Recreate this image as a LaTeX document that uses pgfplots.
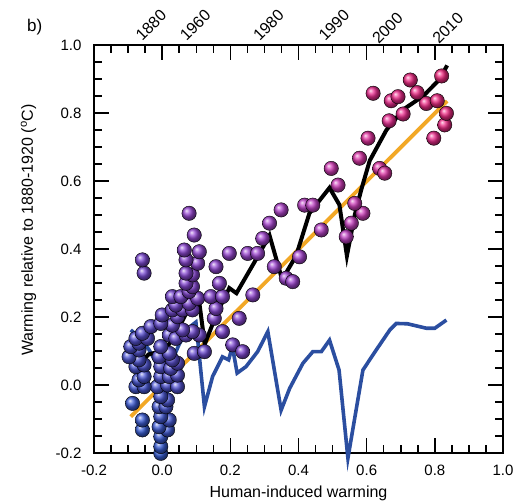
\documentclass[border=0pt]{standalone}
\usepackage{fontspec}
\setmainfont{Liberation Sans}
\usepackage{pgfplots}
\pgfplotsset{compat=1.18}
\definecolor{bline}{RGB}{43,78,160}
\definecolor{oline}{RGB}{242,168,38}
\begin{document}
\begin{tikzpicture}
\path[use as bounding box] (-94bp,-50bp) rectangle (424bp,453bp);
\begin{axis}[
  at={(0,0)}, anchor=south west,
  scale only axis,
  width=409bp, height=408bp,
  xmin=-0.2, xmax=1.0, ymin=-0.2, ymax=1.0,
  xtick={-0.2,0,0.2,0.4,0.6,0.8,1.0},
  ytick={-0.2,0,0.2,0.4,0.6,0.8,1.0},
  minor tick num=3,
  xtick pos=both, ytick pos=both,
  xticklabel pos=lower, yticklabel pos=left,
  tick align=inside,
  major tick length=15bp, minor tick length=8bp,
  every tick/.style={black, line width=1.5bp},
  axis line style={line width=1.7bp},
  ticklabel style={font=\fontsize{15bp}{18bp}\selectfont},
  xticklabel style={yshift=-9bp},
  yticklabel style={xshift=-9bp},
  /pgf/number format/assume math mode=true,
  /pgf/number format/.cd, fixed, fixed zerofill, precision=1, /pgfplots/.cd,
  clip=false,
  colormap={ym}{rgb255(0cm)=(50,95,215) rgb255(1cm)=(55,95,215) rgb255(4cm)=(90,80,210) rgb255(6.5cm)=(130,70,210) rgb255(11cm)=(170,70,210) rgb255(14cm)=(205,60,185) rgb255(17cm)=(232,45,150) rgb255(20cm)=(240,40,125)},
  point meta min=-0.3, point meta max=1.7,
]
\addplot[oline, line width=3.8bp] coordinates {(-0.092,-0.093) (0.836,0.835)};
\addplot[bline, line width=3.6bp] coordinates {
(-0.092,0.162) (-0.058,0.13) (-0.038,0.103) (-0.015,0.06) (0.0,-0.22) (0.02,0.05) (0.05,0.12) (0.08,0.17) (0.099,0.185)
(0.124,-0.064) (0.148,0.025) (0.177,0.083) (0.195,0.074) (0.206,0.113) (0.22,0.035) (0.246,0.054) (0.28,0.098) (0.31,0.157)
(0.349,-0.074) (0.374,-0.01) (0.413,0.064) (0.442,0.098) (0.467,0.098) (0.491,0.132) (0.519,0.044) (0.545,-0.215)
(0.589,0.044) (0.628,0.103) (0.668,0.162) (0.687,0.181) (0.72,0.18) (0.775,0.167) (0.8,0.167) (0.834,0.191)};
\addplot[black, line width=4bp] coordinates {
(-0.07,0.06) (-0.04,0.09) (0.0,0.10) (0.02,0.12) (0.05,0.17) (0.08,0.23) (0.10,0.27) (0.108,0.25) (0.125,0.12)
(0.16,0.21) (0.197,0.285) (0.218,0.27) (0.27,0.36) (0.315,0.44) (0.352,0.31) (0.393,0.38) (0.432,0.505) (0.491,0.58)
(0.52,0.53) (0.542,0.38) (0.565,0.50) (0.584,0.574) (0.609,0.66) (0.658,0.75) (0.707,0.81) (0.766,0.85) (0.815,0.90) (0.836,0.94)};
\addplot[scatter, only marks, mark=ball, mark size=7.2bp,
  point meta={\thisrow{x}+\thisrow{y}},
  scatter/use mapped color={ball color=mapped color}] table[x=x,y=y] {
x y
-0.004 -0.201
-0.004 -0.181
-0.004 -0.152
0.016 -0.132
-0.009 -0.123
0.021 -0.103
-0.004 -0.093
-0.058 -0.132
-0.058 -0.103
-0.087 -0.054
-0.009 -0.064
0.011 -0.064
0.016 -0.044
-0.004 -0.034
-0.014 -0.005
0.016 0.000
0.045 -0.005
-0.077 -0.005
-0.053 -0.005
-0.068 0.015
-0.053 0.025
-0.004 0.025
0.021 0.025
0.045 0.029
-0.004 0.054
0.025 0.049
0.045 0.064
-0.077 0.054
-0.053 0.059
-0.068 0.074
-0.097 0.083
-0.009 0.083
0.030 0.074
0.021 0.093
-0.004 0.113
0.094 0.093
0.124 0.098
-0.068 0.103
-0.092 0.113
-0.068 0.123
-0.077 0.137
-0.043 0.137
-0.058 0.152
-0.033 0.172
0.021 0.147
0.040 0.137
0.070 0.147
0.109 0.147
0.089 0.157
0.060 0.162
0.030 0.176
-0.004 0.181
0.000 0.206
0.045 0.201
0.030 0.221
0.060 0.221
0.089 0.221
0.040 0.235
0.079 0.240
0.030 0.260
0.055 0.260
0.104 0.255
0.079 0.275
0.089 0.289
0.070 0.299
0.089 0.324
0.070 0.329
0.104 0.358
0.070 0.368
0.065 0.397
0.109 0.392
0.094 0.441
-0.053 0.329
-0.058 0.368
0.079 0.505
0.177 0.157
0.207 0.118
0.236 0.098
0.153 0.196
0.226 0.196
0.158 0.225
0.143 0.260
0.177 0.260
0.168 0.299
0.158 0.348
0.197 0.387
0.266 0.265
0.251 0.387
0.280 0.387
0.295 0.431
0.315 0.476
0.329 0.348
0.364 0.314
0.383 0.304
0.403 0.377
0.349 0.515
0.418 0.529
0.442 0.529
0.467 0.456
0.540 0.436
0.555 0.476
0.589 0.505
0.565 0.534
0.516 0.588
0.496 0.637
0.579 0.667
0.604 0.726
0.638 0.637
0.653 0.623
0.666 0.777
0.707 0.797
0.672 0.836
0.692 0.848
0.619 0.858
0.797 0.726
0.829 0.765
0.834 0.799
0.775 0.828
0.807 0.836
0.748 0.860
0.728 0.897
0.820 0.909
};
\node[yshift=3bp, rotate=45, anchor=south west, inner sep=0pt, font=\fontsize{16bp}{19bp}\selectfont] at (axis cs:-0.058,1.0) {1880};
\node[yshift=3bp, rotate=45, anchor=south west, inner sep=0pt, font=\fontsize{16bp}{19bp}\selectfont] at (axis cs:0.072,1.0) {1960};
\node[yshift=3bp, rotate=45, anchor=south west, inner sep=0pt, font=\fontsize{16bp}{19bp}\selectfont] at (axis cs:0.287,1.0) {1980};
\node[yshift=3bp, rotate=45, anchor=south west, inner sep=0pt, font=\fontsize{16bp}{19bp}\selectfont] at (axis cs:0.479,1.0) {1990};
\node[yshift=0bp, rotate=45, anchor=south west, inner sep=0pt, font=\fontsize{16bp}{19bp}\selectfont] at (axis cs:0.636,1.0) {2000};
\node[yshift=0bp, rotate=45, anchor=south west, inner sep=0pt, font=\fontsize{16bp}{19bp}\selectfont] at (axis cs:0.813,1.0) {2010};
\node[anchor=base west, inner sep=0pt, font=\fontsize{17bp}{20bp}\selectfont, xshift=-67bp, yshift=13bp] at (rel axis cs:0,1) {b)};
\node[anchor=base, inner sep=0pt, font=\fontsize{16bp}{19bp}\selectfont, yshift=-44bp] at (rel axis cs:0.5,0) {Human-induced warming};
\node[anchor=base, rotate=90, inner sep=0pt, font=\fontsize{16bp}{19bp}\selectfont] at ([xshift=-61bp, yshift=19bp]rel axis cs:0,0.5) {Warming relative to 1880-1920 (\textsuperscript{o}C)};
\end{axis}
\end{tikzpicture}
\end{document}
